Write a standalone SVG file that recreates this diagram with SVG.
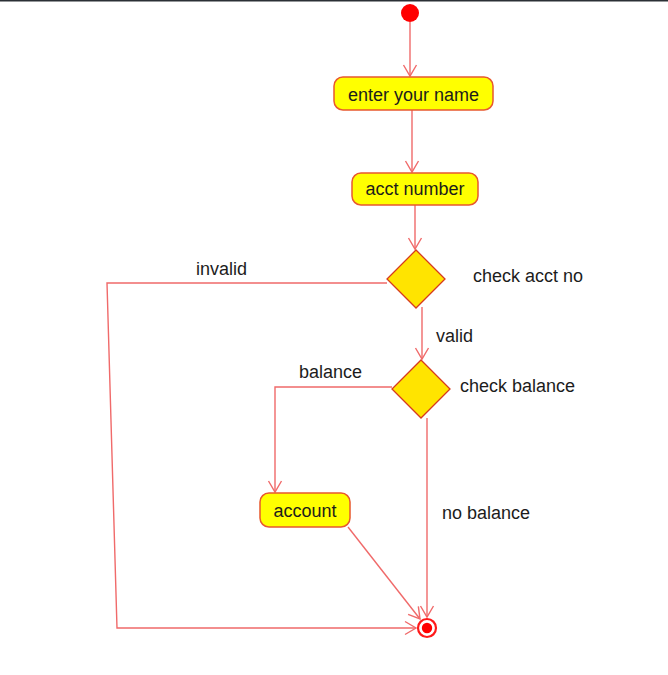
<svg xmlns="http://www.w3.org/2000/svg" width="668" height="675" viewBox="0 0 668 675">
  <style>
    .lbl { font-family: "Liberation Sans", Arial, sans-serif; font-size: 18px; fill: #1c1c1c; }
    .act { fill: #ffff00; stroke: #e8582e; stroke-width: 1.5; }
    .dec { fill: #ffe400; stroke: #d63a1e; stroke-width: 1.3; }
    .flow { fill: none; stroke: #f06a6a; stroke-width: 1.4; marker-end: url(#open); }
  </style>
  <defs>
    <marker id="open" markerUnits="userSpaceOnUse" markerWidth="14" markerHeight="16" refX="12" refY="7" orient="auto" viewBox="0 0 14 14">
      <path d="M1,0.5 L12,7 L1,13.5" fill="none" stroke="#f06a6a" stroke-width="1.4"/>
    </marker>
  </defs>

  <rect x="0" y="0" width="668" height="675" fill="#ffffff"/>
  <rect x="0" y="0" width="668" height="1.5" fill="#2b3035"/>

  <g id="connectors">
    <path class="flow" d="M410,22 L410,76"/>
    <path class="flow" d="M412,110 L412,172"/>
    <path class="flow" d="M415,205 L415,249"/>
    <path class="flow" d="M387,283 L107,283 L117,628 L416,628"/>
    <path class="flow" d="M422,307 L422,359"/>
    <path class="flow" d="M392,387 L275,387 L275,492"/>
    <path class="flow" d="M427,418 L427,617"/>
    <path class="flow" d="M348,527 L420,619"/>
  </g>

  <g id="start">
    <circle cx="410" cy="13" r="9" fill="#ff0000"/>
  </g>

  <g id="enter-name">
    <rect class="act" x="334" y="77" width="159" height="33" rx="9"/>
    <text class="lbl" x="413.5" y="101" text-anchor="middle">enter your name</text>
  </g>

  <g id="acct-number">
    <rect class="act" x="352" y="173" width="126" height="32" rx="9"/>
    <text class="lbl" x="415" y="195" text-anchor="middle">acct number</text>
  </g>

  <g id="check-acct">
    <polygon class="dec" points="416,250 445,279 416,308 387,279"/>
    <text class="lbl" x="473" y="282">check acct no</text>
  </g>

  <g id="check-balance">
    <polygon class="dec" points="421,360 450,389 421,418 392,389"/>
    <text class="lbl" x="460" y="392">check balance</text>
  </g>

  <g id="account">
    <rect class="act" x="260" y="493" width="90" height="34" rx="9"/>
    <text class="lbl" x="305" y="517" text-anchor="middle">account</text>
  </g>

  <g id="end">
    <circle cx="427" cy="628" r="9" fill="#ffffff" stroke="#ff1a1a" stroke-width="2.2"/>
    <circle cx="427" cy="628" r="5.2" fill="#ff0000"/>
  </g>

  <g id="guards">
    <text class="lbl" x="196" y="275">invalid</text>
    <text class="lbl" x="436" y="342">valid</text>
    <text class="lbl" x="299" y="378">balance</text>
    <text class="lbl" x="442" y="519">no balance</text>
  </g>
</svg>
